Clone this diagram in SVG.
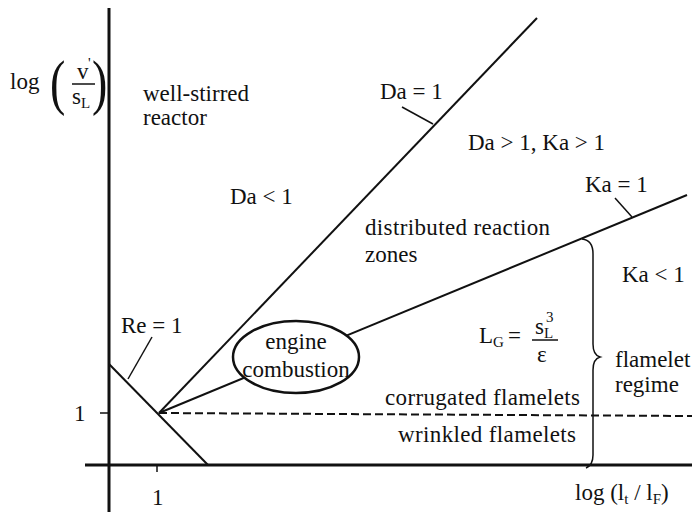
<svg xmlns="http://www.w3.org/2000/svg" width="692" height="520" viewBox="0 0 692 520">
<style>
text{font-family:"Liberation Serif","Times New Roman",serif;font-size:23px;fill:#111}
.sm{font-size:15px}
.ln{stroke:#111;stroke-width:2;fill:none}
.ax{stroke:#111;stroke-width:3;fill:none}
.th{stroke:#111;stroke-width:1.5;fill:none}
</style>
<rect width="692" height="520" fill="#fff"/>
<g id="axes">
<line class="ax" x1="109" y1="8" x2="109" y2="512"/>
<line class="ax" x1="85" y1="465" x2="692" y2="465"/>
<line class="th" x1="100" y1="413" x2="109" y2="413"/>
<line class="th" x1="157" y1="465" x2="157" y2="472"/>
</g>
<g id="connectors">
<line class="ln" x1="109" y1="364" x2="208" y2="465"/>
<line class="ln" x1="159" y1="413" x2="537" y2="18"/>
<line class="ln" x1="159" y1="413" x2="687" y2="195"/>
<line class="ln" x1="159" y1="413" x2="692" y2="416" stroke-dasharray="8 4"/>
<line class="th" x1="152" y1="337" x2="128" y2="379"/>
<line class="th" x1="402" y1="107" x2="433" y2="124"/>
<line class="th" x1="615" y1="198" x2="632" y2="217"/>
<path class="th" d="M582,239 Q593,240 593,254 L593,344 Q593,355 600,357 Q593,359 593,370 L593,455 Q593,465 586,468"/>
</g>
<g id="ylabel">
<text x="10" y="89">log</text>
<text transform="translate(50,103) scale(1,1.35)" style="font-size:46px">(</text>
<text transform="translate(92,103) scale(1,1.35)" style="font-size:46px">)</text>
<text x="77" y="79">v</text>
<text x="88" y="68" class="sm">'</text>
<line class="th" x1="72" y1="84" x2="95" y2="84"/>
<text x="72" y="104">s</text>
<text x="81" y="108" class="sm">L</text>
</g>
<g id="xlabel">
<text x="575" y="500">log (l<tspan class="sm" dy="4">t</tspan><tspan dy="-4"> / l</tspan><tspan class="sm" dy="4">F</tspan><tspan dy="-4">)</tspan></text>
</g>
<text x="74" y="421">1</text>
<text x="152" y="505">1</text>
<g id="well-stirred">
<text x="143" y="101">well-stirred</text>
<text x="143" y="125">reactor</text>
</g>
<text id="da-lt" x="230" y="204">Da &lt; 1</text>
<text id="da-eq" x="380" y="99">Da = 1</text>
<text id="da-gt" x="468" y="150">Da &gt; 1, Ka &gt; 1</text>
<text id="ka-eq" x="585" y="192">Ka = 1</text>
<g id="distributed">
<text x="365" y="235" textLength="185">distributed reaction</text>
<text x="365" y="262">zones</text>
</g>
<text id="ka-lt" x="622" y="282">Ka &lt; 1</text>
<text id="re-eq" x="121" y="333">Re = 1</text>
<g id="engine">
<ellipse cx="296" cy="357" rx="63" ry="36" fill="#fff" stroke="#111" stroke-width="2.5"/>
<text x="296" y="349" text-anchor="middle">engine</text>
<text x="296" y="377" text-anchor="middle">combustion</text>
</g>
<g id="lg">
<text x="479" y="343">L</text>
<text x="493" y="347" class="sm">G</text>
<text x="508" y="343">=</text>
<text x="535" y="334">s</text>
<text x="544" y="338" class="sm">L</text>
<text x="546" y="322" class="sm">3</text>
<line class="th" x1="532" y1="340" x2="558" y2="340"/>
<text x="537" y="362">ε</text>
</g>
<g id="flamelet">
<text x="615" y="367">flamelet</text>
<text x="615" y="392">regime</text>
</g>
<text id="corrugated" x="385" y="405" textLength="195">corrugated flamelets</text>
<text id="wrinkled" x="398" y="442" textLength="178">wrinkled flamelets</text>
</svg>
